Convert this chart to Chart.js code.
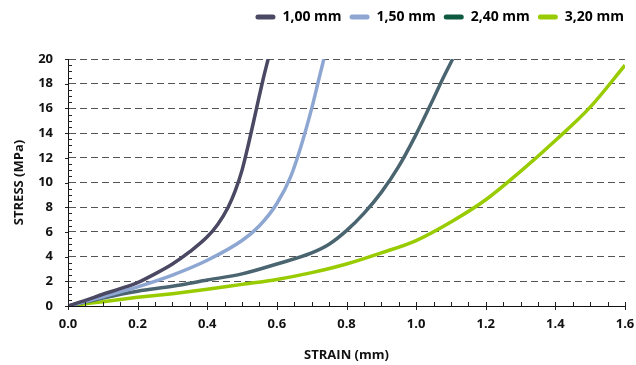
<!DOCTYPE html>
<html>
<head>
<meta charset="utf-8">
<script src="https://cdn.jsdelivr.net/npm/chart.js@4/dist/chart.umd.min.js"></script>
<style>
  html, body { margin: 0; padding: 0; background: #ffffff; }
  #wrap { width: 636px; height: 365px; }
</style>
</head>
<body>
<div id="wrap"><canvas id="c" width="636" height="365"></canvas></div>
<script>
// ---- data ----
const seriesNames = ['1,00 mm', '1,50 mm', '2,40 mm', '3,20 mm'];
const lineColors = ['#4a4862', '#8ea6d2', '#4b6570', '#99cc00'];
const legendColors = ['#4a4862', '#8ea6d2', '#0d5a40', '#99cc00'];

const strain100 = [0, 0.05, 0.10, 0.15, 0.20, 0.25, 0.30, 0.35, 0.40, 0.43, 0.46, 0.48, 0.50, 0.52, 0.54, 0.56, 0.575];
const stress100 = [0, 0.45, 0.95, 1.40, 1.90, 2.60, 3.40, 4.40, 5.60, 6.60, 8.00, 9.30, 11.0, 13.3, 15.8, 18.3, 20.0];

const strain150 = [0, 0.10, 0.20, 0.30, 0.40, 0.50, 0.55, 0.60, 0.64, 0.67, 0.70, 0.72, 0.735];
const stress150 = [0, 0.75, 1.55, 2.50, 3.70, 5.30, 6.50, 8.30, 10.5, 13.0, 16.0, 18.3, 20.0];

const strain240 = [0, 0.10, 0.20, 0.30, 0.40, 0.50, 0.60, 0.70, 0.75, 0.80, 0.85, 0.90, 0.95, 1.00, 1.05, 1.08, 1.105];
const stress240 = [0, 0.65, 1.20, 1.60, 2.10, 2.60, 3.40, 4.30, 5.00, 6.10, 7.50, 9.20, 11.3, 13.9, 16.8, 18.6, 20.0];

const strain320 = [0, 0.10, 0.20, 0.30, 0.40, 0.50, 0.60, 0.70, 0.80, 0.90, 1.00, 1.10, 1.20, 1.30, 1.40, 1.50, 1.60];
const stress320 = [0, 0.35, 0.70, 1.00, 1.35, 1.75, 2.15, 2.70, 3.40, 4.30, 5.30, 6.80, 8.60, 10.9, 13.4, 16.1, 19.5];

const xTickLabels = ['0.0', '0.2', '0.4', '0.6', '0.8', '1.0', '1.2', '1.4', '1.6'];
const yTickLabels = ['0', '2', '4', '6', '8', '10', '12', '14', '16', '18', '20'];
const xTitle = 'STRAIN (mm)';
const yTitle = 'STRESS (MPa)';

// ---- build ----
const strains = [strain100, strain150, strain240, strain320];
const stresses = [stress100, stress150, stress240, stress320];
const datasets = seriesNames.map((name, i) => ({
  label: name,
  data: strains[i].map((x, j) => ({ x: x, y: stresses[i][j] })),
  borderColor: lineColors[i],
  backgroundColor: lineColors[i],
  borderWidth: 3.5,
  pointRadius: 0,
  cubicInterpolationMode: 'monotone',
  fill: false
}));

const FONT = "'Open Sans', 'Noto Sans', sans-serif";

const layoutPlugin = {
  id: 'layoutFix',
  beforeUpdate(chart) {
    const lg = chart.legend;
    if (lg && !lg._patched) {
      const f = lg.fit;
      lg.fit = function () { f.call(this); this.height = 57; };
      lg._patched = true;
    }
  }
};

const minorTicks = {
  id: 'minorTicks',
  afterDraw(chart) {
    const ctx = chart.ctx;
    const xs = chart.scales.x, ys = chart.scales.y;
    const left = chart.chartArea.left, bottom = chart.chartArea.bottom;
    ctx.save();
    ctx.strokeStyle = '#222';
    ctx.lineWidth = 1;
    ctx.beginPath();
    for (let k = 0; k <= 40; k++) {
      const v = k * 0.5;
      const py = Math.round(ys.getPixelForValue(v)) + 0.5;
      if (k % 4 === 0) { ctx.moveTo(left - 3, py); ctx.lineTo(left, py); }
      else { ctx.moveTo(left, py); ctx.lineTo(left + 4, py); }
    }
    for (let k = 0; k <= 32; k++) {
      const v = k * 0.05;
      const px = Math.round(xs.getPixelForValue(v)) + 0.5;
      if (k % 4 === 0) { ctx.moveTo(px, bottom - 4); ctx.lineTo(px, bottom + 4); }
      else { ctx.moveTo(px, bottom - 4); ctx.lineTo(px, bottom); }
    }
    ctx.stroke();
    ctx.restore();
  }
};

new Chart(document.getElementById('c'), {
  type: 'line',
  data: { datasets: datasets },
  plugins: [layoutPlugin, minorTicks],
  options: {
    responsive: false,
    animation: false,
    layout: { padding: { top: 2, right: 4, bottom: 0, left: 0 } },
    plugins: {
      tooltip: { enabled: false },
      legend: {
        position: 'top',
        align: 'end',
        labels: {
          font: { family: FONT, size: 14, weight: 'bold' },
          color: '#333',
          boxWidth: 20,
          boxHeight: 5,
          padding: 8,
          useBorderRadius: true,
          borderRadius: 2.5,
          generateLabels(chart) {
            return chart.data.datasets.map((ds, i) => ({
              text: ds.label,
              fillStyle: legendColors[i],
              strokeStyle: legendColors[i],
              lineWidth: 0,
              borderRadius: 2.5,
              datasetIndex: i,
              hidden: false
            }));
          }
        }
      }
    },
    scales: {
      x: {
        type: 'linear',
        min: 0, max: 1.6,
        afterFit(s) { s.height = 59; s.paddingLeft = 0; s.paddingRight = 11; },
        afterBuildTicks(s) { s.ticks = xTickLabels.map(t => ({ value: parseFloat(t) })); },
        ticks: {
          font: { family: FONT, size: 13, weight: 'bold' },
          color: '#111',
          padding: 10,
          maxRotation: 0,
          callback: (v, i) => xTickLabels[i]
        },
        grid: { display: false, drawTicks: false },
        border: { display: true, color: '#111', width: 1 },
        title: {
          display: true, text: xTitle,
          font: { family: FONT, size: 13, weight: 'bold' },
          color: '#111',
          padding: { top: 0, bottom: 2 }
        }
      },
      y: {
        type: 'linear',
        min: 0, max: 20,
        afterFit(s) { s.width = 68; },
        afterBuildTicks(s) { s.ticks = yTickLabels.map(t => ({ value: parseFloat(t) })); },
        ticks: {
          font: { family: FONT, size: 13, weight: 'bold' },
          color: '#111',
          padding: 15,
          callback: (v, i) => yTickLabels[i]
        },
        grid: { display: true, drawTicks: false, color: '#555', lineWidth: 1 },
        border: { display: true, color: '#111', width: 1, dash: [7, 4] },
        title: {
          display: true, text: yTitle,
          font: { family: FONT, size: 13, weight: 'bold' },
          color: '#111',
          padding: { top: 11, bottom: 0 }
        }
      }
    }
  }
});
</script>
</body>
</html>
